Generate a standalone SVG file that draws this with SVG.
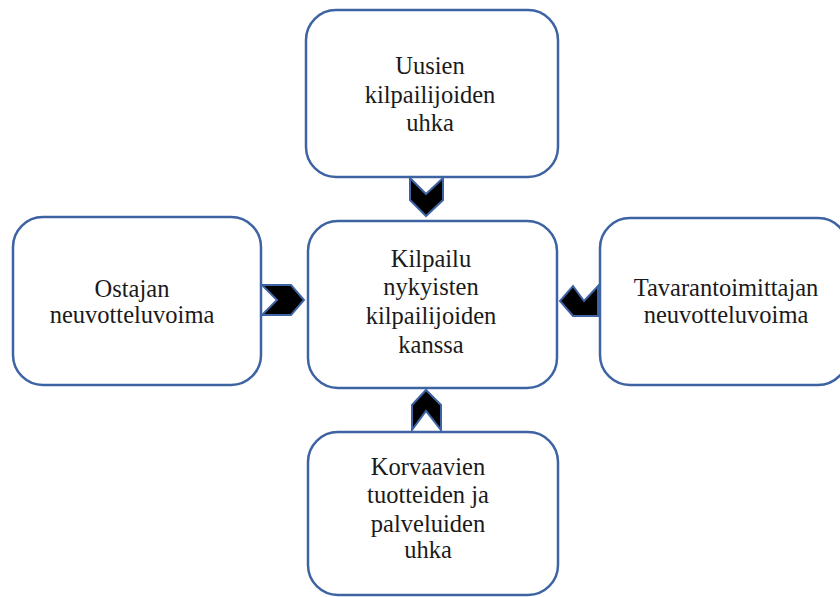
<svg xmlns="http://www.w3.org/2000/svg" width="840" height="597" viewBox="0 0 840 597">
<style>
.box{fill:#ffffff;stroke:#3d63a3;stroke-width:2.5}
.chev{fill:#000000;stroke:#3d63a3;stroke-width:2;stroke-linejoin:miter}
.lbl{font-family:'Liberation Serif','Times New Roman',serif;font-size:24.5px;fill:#1a1a1a;text-anchor:middle}
</style>
<rect width="840" height="597" fill="#ffffff"/>
<g font-family="'Liberation Serif', 'Times New Roman', serif" font-size="24.5" text-anchor="middle" fill="#1a1a1a">
<g id="node-top">
<rect class="box" x="306" y="10" width="252" height="167" rx="30"/>
<text class="lbl" x="430" y="74">Uusien</text>
<text class="lbl" x="430" y="103">kilpailijoiden</text>
<text class="lbl" x="430" y="131">uhka</text>
</g>
<g id="node-center">
<rect class="box" x="308" y="221" width="249" height="167" rx="30"/>
<text class="lbl" x="431" y="267">Kilpailu</text>
<text class="lbl" x="431" y="295">nykyisten</text>
<text class="lbl" x="431" y="324">kilpailijoiden</text>
<text class="lbl" x="431" y="353">kanssa</text>
</g>
<g id="node-left">
<rect class="box" x="13" y="217" width="248" height="168" rx="30"/>
<text class="lbl" x="132" y="297">Ostajan</text>
<text class="lbl" x="132" y="323">neuvotteluvoima</text>
</g>
<g id="node-right">
<rect class="box" x="600" y="218" width="248" height="167" rx="30"/>
<text class="lbl" x="726" y="296">Tavarantoimittajan</text>
<text class="lbl" x="726" y="323">neuvotteluvoima</text>
</g>
<g id="node-bottom">
<rect class="box" x="308" y="432" width="250" height="163" rx="30"/>
<text class="lbl" x="428" y="475">Korvaavien</text>
<text class="lbl" x="428" y="503">tuotteiden ja</text>
<text class="lbl" x="428" y="532">palveluiden</text>
<text class="lbl" x="428" y="558">uhka</text>
</g>
</g>
<g id="connectors">
<polygon class="chev" points="410,178 426,194 443,178 443,200 426,216 410,200"/>
<polygon class="chev" points="262,285 291,285 304,300 291,315 262,315 277,300"/>
<polygon class="chev" points="598,286 598,316 573,316 560,301 573,286 584,301"/>
<polygon class="chev" points="412,430 412,405 426,390 441,405 441,430 426,411"/>
</g>
</svg>
